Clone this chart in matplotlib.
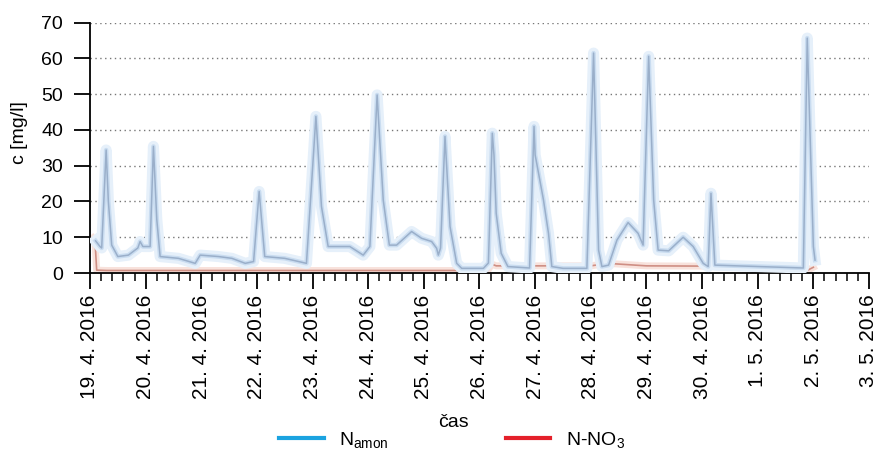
import numpy as np
import pandas as pd
import matplotlib
matplotlib.use("Agg")
from matplotlib import pyplot as plt
from matplotlib.lines import Line2D
from matplotlib.ticker import MultipleLocator, FuncFormatter
import matplotlib.dates as mdates

plt.rcParams['font.family'] = ['Liberation Sans', 'DejaVu Sans']
plt.rcParams['mathtext.fontset'] = 'custom'
plt.rcParams['mathtext.rm'] = 'Liberation Sans'
plt.rcParams['mathtext.it'] = 'Liberation Sans:italic'
plt.rcParams['mathtext.default'] = 'regular'

start = pd.Timestamp('2016-04-19')

# N_amon, cas v dnech od 19. 4. 2016 00:00
t_amon = [0.10, 0.18, 0.21, 0.29, 0.33, 0.39, 0.50, 0.69, 0.86, 0.90, 0.95, 1.08, 1.14, 1.20, 1.26,
          1.59, 1.89, 1.98, 2.31, 2.55, 2.79, 2.94, 3.04, 3.14, 3.50, 3.89, 4.06, 4.16, 4.28, 4.46,
          4.67, 4.91, 5.03, 5.16, 5.27, 5.38, 5.51, 5.78, 5.96, 6.14, 6.23, 6.26, 6.30, 6.38, 6.47,
          6.59, 6.68, 7.07, 7.16, 7.23, 7.26, 7.30, 7.39, 7.51, 7.90, 7.98, 8.00, 8.06, 8.15, 8.24,
          8.30, 8.50, 8.93, 9.05, 9.14, 9.20, 9.32, 9.47, 9.67, 9.85, 9.94, 10.04, 10.13, 10.21,
          10.40, 10.66, 10.84, 11.02, 11.11, 11.16, 11.23, 12.82, 12.89, 13.00, 13.03]
c_amon = [9.0, 7.4, 7.0, 34.4, 20.0, 7.8, 4.6, 5.0, 7.0, 8.8, 7.4, 7.4, 35.4, 15.0, 4.6,
          4.1, 2.7, 5.0, 4.6, 4.1, 2.7, 3.2, 22.8, 4.6, 4.1, 2.7, 43.8, 18.6, 7.4, 7.4,
          7.4, 5.0, 7.4, 49.8, 20.4, 7.8, 7.8, 11.6, 9.7, 8.8, 6.9, 5.0, 7.0, 38.2, 13.0,
          2.7, 1.3, 1.3, 2.8, 39.1, 33.0, 16.7, 5.5, 1.8, 1.4, 41.0, 33.0, 28.0, 20.4, 11.1,
          1.8, 1.3, 1.3, 61.5, 6.4, 1.8, 2.2, 9.2, 14.1, 11.1, 7.8, 60.6, 20.4, 6.4,
          6.2, 10.0, 7.4, 2.7, 1.8, 22.3, 2.2, 1.4, 65.7, 7.4, 3.6]

# N-NO3
t_no3 = [0.05, 0.09, 0.12, 0.30, 7.15, 7.20, 7.22, 7.30, 9.00, 9.30, 9.50, 10.00, 12.80, 12.90, 13.00]
c_no3 = [9.8, 9.0, 0.8, 0.7, 0.7, 2.0, 2.5, 2.0, 2.0, 2.7, 2.5, 2.0, 1.8, 0.8, 1.6]

d_amon = start + pd.to_timedelta(t_amon, unit='D')
d_no3 = start + pd.to_timedelta(t_no3, unit='D')

fig = plt.figure(figsize=(8.8, 4.5), dpi=100)
ax = fig.add_axes([90/880, (450-273)/450, 779/880, (273-22.7)/450])

# rozmazane cary jako v predloze
ax.plot(d_no3, c_no3, color='#f8e2dc', lw=5, solid_joinstyle='round', zorder=2)
ax.plot(d_no3, c_no3, color='#cf8f84', lw=1.2, zorder=3)
ax.plot(d_amon, c_amon, color='#e6f0fa', lw=8, solid_joinstyle='round', zorder=4)
ax.plot(d_amon, c_amon, color='#c9dcf0', lw=3.2, solid_joinstyle='round', zorder=5)
ax.plot(d_amon, c_amon, color='#9aafca', lw=1.1, zorder=6)

ax.set_ylim(0, 70)
ax.set_xlim(start, start + pd.Timedelta(days=14))
ax.yaxis.set_major_locator(MultipleLocator(10))
ax.xaxis.set_major_locator(MultipleLocator(1))
ax.xaxis.set_minor_locator(MultipleLocator(0.2))
ax.xaxis.set_major_formatter(FuncFormatter(
    lambda v, p: '%d. %d. %d' % (mdates.num2date(v).day, mdates.num2date(v).month, mdates.num2date(v).year)))

ax.grid(axis='y', color='#777777', linestyle=(0, (1, 2.5)), lw=1)
ax.set_axisbelow(True)
for s in ['top', 'right']:
    ax.spines[s].set_visible(False)
for s in ['left', 'bottom']:
    ax.spines[s].set_linewidth(1.3)

ax.tick_params(axis='y', length=11.5, width=1.3, labelsize=14, pad=8)
ax.tick_params(axis='x', which='major', length=11.5, width=1.3, labelsize=15, pad=4, labelrotation=90)
ax.tick_params(axis='x', which='minor', length=5.5, width=1.1)

ax.set_ylabel('c [mg/l]', fontsize=14)
ax.yaxis.set_label_coords(-0.079, 0.56)
ax.set_xlabel('čas', fontsize=14)
ax.xaxis.set_label_coords(0.466, -0.565)

handles = [Line2D([], [], color='#1ba3e0', lw=3),
           Line2D([], [], color='#e4202a', lw=3)]
fig.legend(handles, ['N$_{amon}$', 'N-NO$_3$'], loc='center', ncol=2,
           bbox_to_anchor=(452/880, 1 - 440/450), frameon=False, fontsize=14,
           handlelength=2.3, columnspacing=6, handletextpad=0.8)

fig.savefig('out.png', dpi=100)
